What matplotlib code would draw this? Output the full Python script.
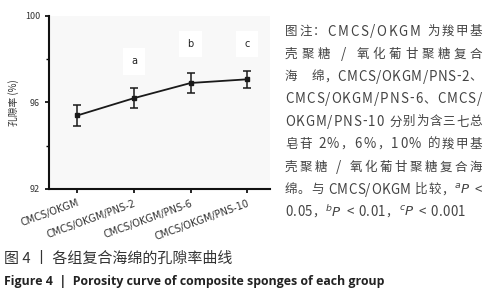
import re
import matplotlib
matplotlib.use("Agg")
import matplotlib.pyplot as plt
from matplotlib.ticker import MultipleLocator

plt.rcParams['font.family'] = ['Noto Sans CJK SC', 'DejaVu Sans']

groups = ["CMCS/OKGM", "CMCS/OKGM/PNS-2", "CMCS/OKGM/PNS-6", "CMCS/OKGM/PNS-10"]
porosity = [95.4, 96.2, 96.9, 97.07]
err = [0.5, 0.45, 0.46, 0.4]
sig = ["", "a", "b", "c"]
sig_y = [None, 97.9, 98.7, 98.7]
yticks = [92, 96, 100]

W, H = 491, 300
fig = plt.figure(figsize=(4.91, 3.0), dpi=100)
ax = fig.add_axes([0.1, 0.37, 0.45, 0.577])
ax.set_facecolor("#f8f8f8")
x = list(range(len(groups)))
ax.errorbar(x, porosity, yerr=err, color="#1a1a1a", lw=1.3, marker="s", ms=3,
            capsize=3, capthick=1.1, elinewidth=1.1)
for xi, s, sy in zip(x, sig, sig_y):
    if s:
        ax.text(xi, sy, s, ha="center", va="center", fontsize=7, color="#222",
                family="DejaVu Sans",
                bbox=dict(facecolor="white", edgecolor="none", pad=6))
ax.set_xlim(-0.5, 3.4)
ax.set_ylim(92, 100)
ax.set_yticks(yticks)
ax.yaxis.set_minor_locator(MultipleLocator(2))
ax.set_xticks(x)
ax.set_xticklabels(groups, rotation=20, ha="right", rotation_mode="anchor",
                   fontsize=7, color="#333", family="DejaVu Sans")
ax.tick_params(axis="y", labelsize=6.5, labelcolor="#333", length=3, width=1.2)
ax.tick_params(axis="y", which="minor", length=2, width=1.0)
ax.tick_params(axis="x", length=3, width=1.2)
for sp in ["top", "right"]:
    ax.spines[sp].set_visible(False)
for sp in ["left", "bottom"]:
    ax.spines[sp].set_linewidth(1.5)
    ax.spines[sp].set_color("#111")
ax.set_ylabel("孔隙率 (%)", fontsize=7, color="#333", labelpad=4)

lines = [
    "图注：CMCS/OKGM 为羧甲基",
    "壳聚糖 / 氧化葡甘聚糖复合",
    "海　绵，CMCS/OKGM/PNS-2、",
    "CMCS/OKGM/PNS-6、CMCS/",
    "OKGM/PNS-10 分别为含三七总",
    "皂苷 2%，6%，10% 的羧甲基",
    "壳聚糖 / 氧化葡甘聚糖复合海",
    r"绵。与 CMCS/OKGM 比较，$^{a}\it{P}$ <",
    r"0.05，$^{b}\it{P}$ < 0.01，$^{c}\it{P}$ < 0.001",
]
justify = [True, True, True, True, True, True, True, True, False]
x_left, x_right = 285, 482
y0, dy = 30, 22.6
fs_cjk = 9.0
fs_lat = 9.6

renderer = fig.canvas.get_renderer()


def tokens(s):
    out = []
    for part in re.split(r"(\$[^$]*\$)", s):
        if not part:
            continue
        if part.startswith("$"):
            out.append(part)
        else:
            out.extend(list(part))
    return out


space_w = fs_cjk * 100 / 72 * 0.3
for i, (t, j) in enumerate(zip(lines, justify)):
    yy = 1 - (y0 + i * dy) / H
    toks = tokens(t)
    arts = []
    widths = []
    for tk in toks:
        if tk == " ":
            arts.append(None)
            widths.append(space_w)
            continue
        is_cjk = len(tk) == 1 and ord(tk) > 0x2E80
        a = fig.text(0, yy, tk, fontsize=fs_cjk if is_cjk else fs_lat,
                     color="#444", ha="left", va="center_baseline")
        arts.append(a)
        widths.append(a.get_window_extent(renderer).width)
    total = sum(widths)
    gap = 0.4
    if j and len(toks) > 1:
        gap = max((x_right - x_left - total) / (len(toks) - 1), 0.0)
    cx = x_left
    for a, w in zip(arts, widths):
        if a is not None:
            a.set_x(cx / W)
        cx += w + gap

fig.text(4 / W, 1 - 259 / H, "图 4 丨 各组复合海绵的孔隙率曲线", fontsize=10.8,
         color="#333", ha="left", va="center")
fig.text(4 / W, 1 - 281 / H, "Figure 4  |  Porosity curve of composite sponges of each group",
         fontsize=8.9, color="#222", weight="bold", ha="left", va="center",
         family="Open Sans")

fig.savefig("out.png", dpi=100)
